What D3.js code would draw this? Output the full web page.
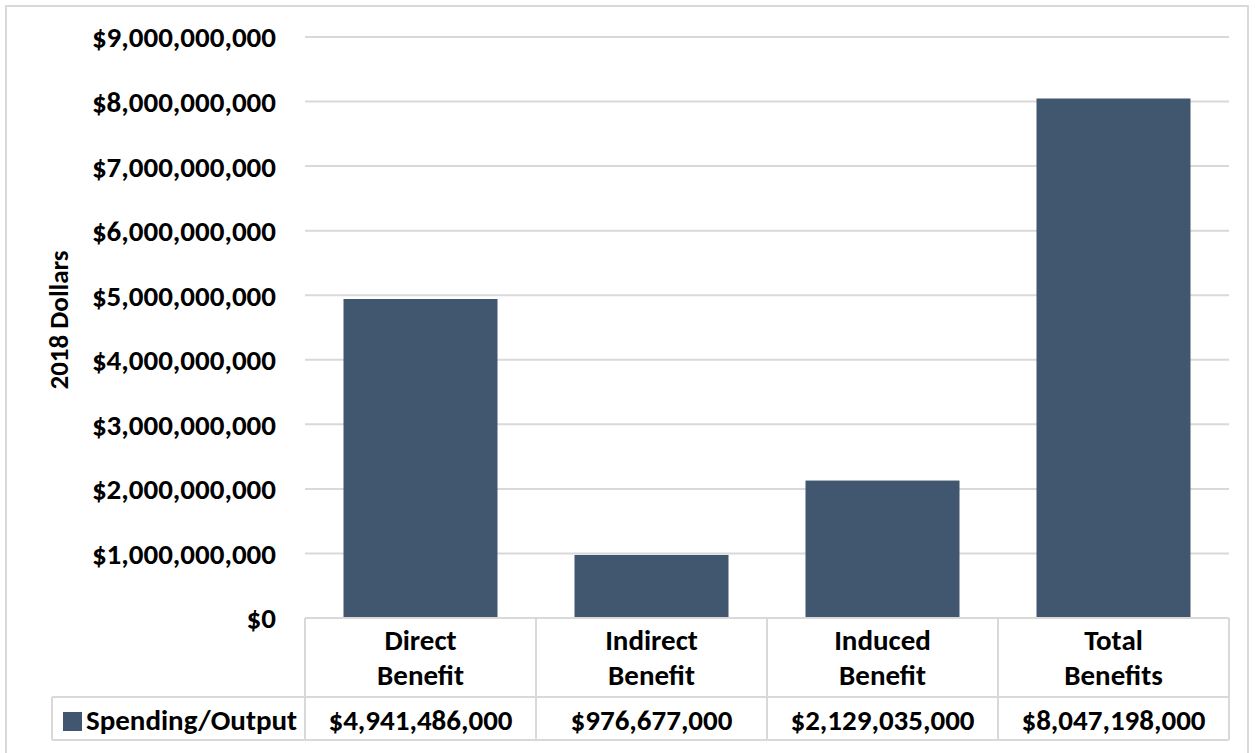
<!DOCTYPE html>
<html>
<head>
<meta charset="utf-8">
<script src="https://cdn.jsdelivr.net/npm/d3@7"></script>
<style>
  html, body { margin: 0; padding: 0; background: #fff; }
  svg { display: block; }
  text { font-family: Carlito, Calibri, Lato, "Open Sans", sans-serif; font-weight: bold; fill: #000; }
</style>
</head>
<body>
<svg id="chart" width="1255" height="753"></svg>
<script>
const categories = [["Direct", "Benefit"], ["Indirect", "Benefit"], ["Induced", "Benefit"], ["Total", "Benefits"]];
const seriesName = "Spending/Output";
const values = [4941486000, 976677000, 2129035000, 8047198000];
const yTicks = [0, 1e9, 2e9, 3e9, 4e9, 5e9, 6e9, 7e9, 8e9, 9e9];
const yTitle = "2018 Dollars";

const svg = d3.select("#chart");
const grid = "#d9d9d9";
const barColor = "#41566f";
const FS = 29;

const plot = { left: 305, right: 1229, top: 37, bottom: 618 };
const tableMid = 697, tableBottom = 740, legendLeft = 52;

// outer frame
svg.append("rect").attr("x", 6).attr("y", 6).attr("width", 1242).attr("height", 780)
  .attr("fill", "none").attr("stroke", grid).attr("stroke-width", 2);

const keys = categories.map(c => c.join(" "));
const x = d3.scaleBand().domain(keys).range([plot.left, plot.right]).paddingInner(0).paddingOuter(0);
const y = d3.scaleLinear().domain([0, 9e9]).range([plot.bottom, plot.top]);

// gridlines
svg.append("g").selectAll("line").data(yTicks).join("line")
  .attr("x1", plot.left).attr("x2", plot.right)
  .attr("y1", d => y(d)).attr("y2", d => y(d))
  .attr("stroke", grid).attr("stroke-width", 2);

// y tick labels
const fmt = d3.format("$,");
svg.append("g").selectAll("text").data(yTicks).join("text")
  .attr("x", 276).attr("y", d => y(d)).attr("dy", "0.36em")
  .attr("text-anchor", "end").attr("font-size", FS)
  .text(d => fmt(d));

// y title
svg.append("text")
  .attr("transform", `translate(68,320) rotate(-90)`)
  .attr("text-anchor", "middle").attr("font-size", 27)
  .text(yTitle);

// bars
const bw = x.bandwidth() * 2 / 3;
svg.append("g").selectAll("rect").data(values).join("rect")
  .attr("x", (d, i) => x(keys[i]) + (x.bandwidth() - bw) / 2)
  .attr("width", bw)
  .attr("y", d => y(d))
  .attr("height", d => y(0) - y(d))
  .attr("fill", barColor);

// data table
const t = svg.append("g").attr("stroke", grid).attr("stroke-width", 2);
t.append("line").attr("x1", plot.left).attr("x2", plot.right).attr("y1", plot.bottom).attr("y2", plot.bottom);
t.append("line").attr("x1", legendLeft).attr("x2", plot.right).attr("y1", tableMid).attr("y2", tableMid);
t.append("line").attr("x1", legendLeft).attr("x2", plot.right).attr("y1", tableBottom).attr("y2", tableBottom);
t.append("line").attr("x1", legendLeft).attr("x2", legendLeft).attr("y1", tableMid).attr("y2", tableBottom);
const edges = keys.map(k => x(k)).concat([plot.right]);
t.selectAll(".v").data(edges).join("line").attr("class", "v")
  .attr("x1", d => d).attr("x2", d => d).attr("y1", plot.bottom).attr("y2", tableBottom);

// category labels
const cat = svg.append("g").selectAll("text").data(categories).join("text")
  .attr("text-anchor", "middle").attr("font-size", FS)
  .attr("x", (d, i) => x(keys[i]) + x.bandwidth() / 2);
cat.each(function(d, i) {
  const sel = d3.select(this);
  d.forEach((line, j) => {
    sel.append("tspan").attr("x", x(keys[i]) + x.bandwidth() / 2)
      .attr("y", 650 + j * 34.5).text(line);
  });
});

// value row
svg.append("g").selectAll("text").data(values).join("text")
  .attr("text-anchor", "middle").attr("font-size", FS)
  .attr("x", (d, i) => x(keys[i]) + x.bandwidth() / 2)
  .attr("y", 730)
  .text(d => fmt(d));

// legend cell
svg.append("rect").attr("x", 63).attr("y", 712).attr("width", 19).attr("height", 19).attr("fill", barColor);
svg.append("text").attr("x", 86).attr("y", 730).attr("font-size", FS).text(seriesName);
</script>
</body>
</html>
